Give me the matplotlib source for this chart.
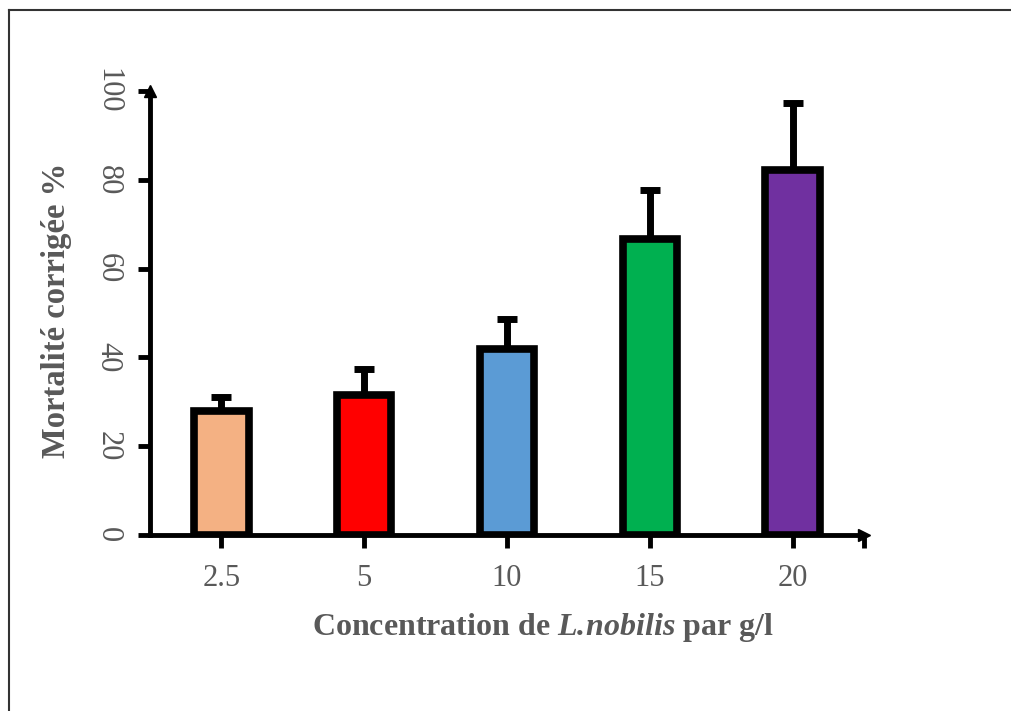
import matplotlib.pyplot as plt

plt.rcParams['font.family'] = ['Liberation Serif', 'DejaVu Serif']
plt.rcParams['mathtext.fontset'] = 'custom'
plt.rcParams['mathtext.rm'] = 'Liberation Serif'
plt.rcParams['mathtext.bfit'] = 'Liberation Serif:italic:bold'

# data
concentrations = ['2.5', '5', '10', '15', '20']
mortality = [28, 31.5, 42, 66.7, 82.2]
errors = [3, 6, 6.7, 11, 15]
colors = ['#F4B183', '#FF0000', '#5B9BD5', '#00B050', '#7030A0']

grey = '#595959'

fig = plt.figure(figsize=(10.12, 7.11), dpi=100)
ax = fig.add_axes([150 / 1012, 1 - 535 / 711, 714 / 1012, 444 / 711])

x = list(range(len(concentrations)))
ax.errorbar(x, mortality, yerr=[[0] * 5, errors], fmt='none', ecolor='black',
            elinewidth=5, capsize=7, capthick=5, zorder=1)
ax.bar(x, mortality, width=0.38, color=colors, edgecolor='black', linewidth=5.5, zorder=2)

ax.set_xlim(-0.5, 4.5)
ax.set_ylim(0, 100)

for side in ['top', 'right']:
    ax.spines[side].set_visible(False)
for side in ['left', 'bottom']:
    ax.spines[side].set_linewidth(3.5)

# arrow heads at the axis ends
ax.plot(1, 0, '>k', markersize=8, transform=ax.transAxes, clip_on=False)
ax.plot(0, 1, '^k', markersize=8, transform=ax.transAxes, clip_on=False)

ax.set_xticks(x + [4.5])
ax.set_xticklabels(concentrations + [''])
ax.set_yticks(range(0, 101, 20))
ax.tick_params(axis='both', direction='out', width=3.5, length=9, color='black',
               labelsize=22, labelcolor=grey)
ax.tick_params(axis='x', pad=12)
ax.tick_params(axis='y', pad=21)
for lab in ax.get_yticklabels():
    lab.set_rotation(-90)
    lab.set_va('center')
    lab.set_ha('center')

ax.set_xlabel(r'Concentration de $\mathbfit{L.\!nobilis}$ par g/l', fontsize=23,
              fontweight='bold', color=grey, labelpad=13)
ax.xaxis.label.set_x(0.55)
ax.set_ylabel('Mortalité corrigée %', fontsize=23.5, fontweight='bold', color=grey,
              labelpad=16)
ax.yaxis.label.set_y(0.505)

# frame of the picture (only top and left edges visible)
fig.add_artist(plt.Line2D([9 / 1012, 9 / 1012], [0, 1 - 10 / 711], color='#333333',
                          linewidth=1.5, transform=fig.transFigure))
fig.add_artist(plt.Line2D([9 / 1012, 1], [1 - 10 / 711, 1 - 10 / 711], color='#333333',
                          linewidth=1.5, transform=fig.transFigure))

fig.savefig('out.png', dpi=100)
